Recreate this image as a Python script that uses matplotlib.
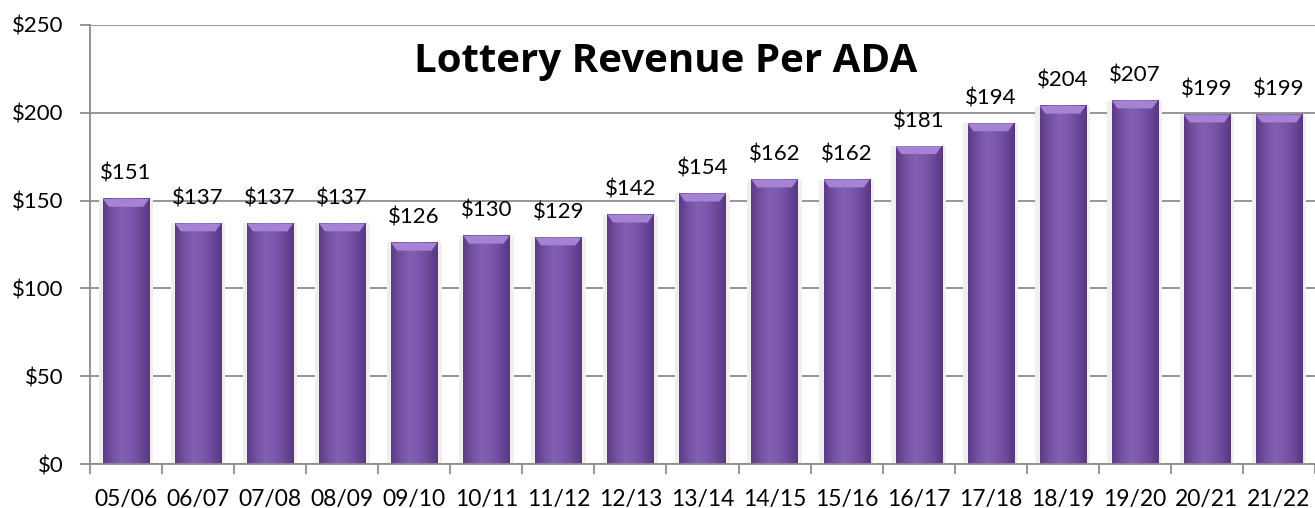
import numpy as np
import matplotlib.pyplot as plt
from matplotlib.colors import LinearSegmentedColormap
from matplotlib.ticker import FixedLocator, FuncFormatter

# years and revenue per ADA
years = ["05/06", "06/07", "07/08", "08/09", "09/10", "10/11", "11/12", "12/13",
         "13/14", "14/15", "15/16", "16/17", "17/18", "18/19", "19/20", "20/21", "21/22"]
revenue = [151, 137, 137, 137, 126, 130, 129, 142, 154, 162, 162, 181, 194, 204, 207, 199, 199]

plt.rcParams['font.family'] = ['Lato', 'DejaVu Sans']

fig = plt.figure(figsize=(13.15, 5.08), dpi=100)
ax = fig.add_axes([0.0684, 0.0866, 0.9316, 0.8642])

x = np.arange(len(years))
width = 0.64

# horizontal shading across each bar (darker edges, lighter middle)
cmap = LinearSegmentedColormap.from_list(
    "bar", ["#5c3c88", "#7450a2", "#8260b2", "#7c58ac", "#6c4a9a", "#583884"])
grad = np.linspace(0, 1, 64).reshape(1, -1)

for xi, v in zip(x, revenue):
    # soft grey shadow behind the bar
    ax.bar(xi, v, width=width + 0.12, color="#efefef", zorder=1)
    ax.imshow(grad, cmap=cmap, aspect="auto", zorder=2,
              extent=(xi - width / 2, xi + width / 2, 0, v), interpolation="bicubic")
    # lighter bevel on top
    cap = 4.5
    ax.fill([xi - width / 2, xi + width / 2, xi + width / 2 - 0.08, xi - width / 2 + 0.08],
            [v, v, v - cap, v - cap], color="#a484d2", zorder=3, lw=0)
    ax.text(xi, v + 8.5, "$%d" % v, ha="center", va="bottom", fontsize=16, zorder=4)

ax.set_xlim(-0.5, len(years) - 0.5)
ax.set_ylim(0, 250)

ax.yaxis.set_major_locator(FixedLocator([0, 50, 100, 150, 200, 250]))
ax.yaxis.set_major_formatter(FuncFormatter(lambda v, p: "$%d" % v))
ax.grid(axis="y", color="#8c8c8c", lw=1.3, zorder=0)
ax.set_axisbelow(True)

# ticks between categories, labels at centres
ax.set_xticks(np.arange(len(years) + 1) - 0.5)
ax.set_xticklabels([])
ax.set_xticks(x, minor=True)
ax.set_xticklabels(years, minor=True, fontsize=16.5)
ax.tick_params(axis="x", which="minor", length=0, pad=18)
ax.tick_params(axis="x", which="major", length=7, color="#8c8c8c", width=1.3)
ax.tick_params(axis="y", length=7, color="#8c8c8c", width=1.3, labelsize=16, pad=12)

for s in ["top", "right"]:
    ax.spines[s].set_visible(False)
for s in ["left", "bottom"]:
    ax.spines[s].set_color("#8c8c8c")
    ax.spines[s].set_linewidth(1.3)

ax.text(0.47, 0.962, "Lottery Revenue Per ADA", transform=ax.transAxes,
        ha="center", va="top", fontsize=29, fontweight="bold", family=["Open Sans", "DejaVu Sans"])

fig.savefig("out.png", dpi=100)
